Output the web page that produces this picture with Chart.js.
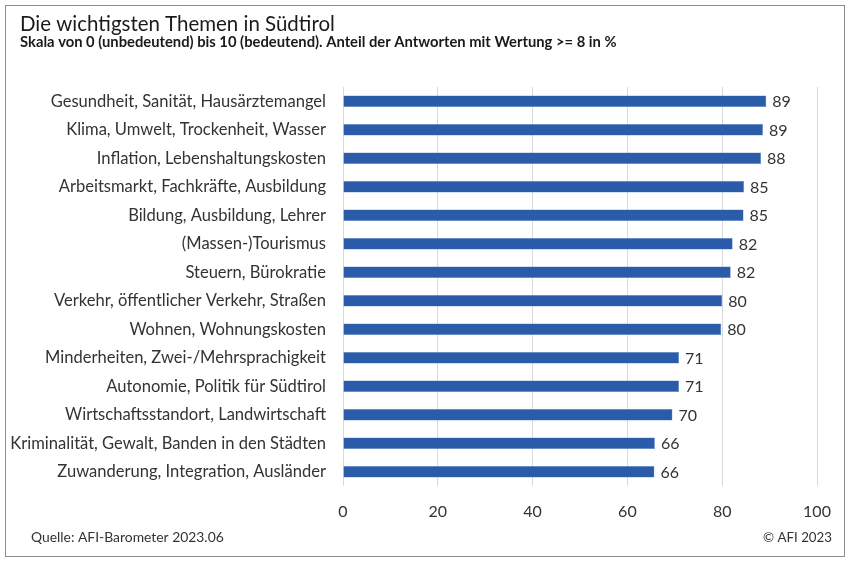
<!DOCTYPE html>
<html>
<head>
<meta charset="utf-8">
<script src="https://cdn.jsdelivr.net/npm/chart.js@4"></script>
<style>
  body { margin: 0; background: #fff; }
  canvas { display: block; }
</style>
</head>
<body>
<canvas id="chart" width="851" height="563"></canvas>
<script>
// ========== DATA ==========
const topics = [
  "Gesundheit, Sanität, Hausärztemangel",
  "Klima, Umwelt, Trockenheit, Wasser",
  "Inflation, Lebenshaltungskosten",
  "Arbeitsmarkt, Fachkräfte, Ausbildung",
  "Bildung, Ausbildung, Lehrer",
  "(Massen-)Tourismus",
  "Steuern, Bürokratie",
  "Verkehr, öffentlicher Verkehr, Straßen",
  "Wohnen, Wohnungskosten",
  "Minderheiten, Zwei-/Mehrsprachigkeit",
  "Autonomie, Politik für Südtirol",
  "Wirtschaftsstandort, Landwirtschaft",
  "Kriminalität, Gewalt, Banden in den Städten",
  "Zuwanderung, Integration, Ausländer"
];
const shares = [89.3, 88.6, 88.2, 84.6, 84.5, 82.2, 81.8, 80.0, 79.8, 70.9, 70.9, 69.5, 65.8, 65.7];
const xTicks = [0, 20, 40, 60, 80, 100];

const titleText = "Die wichtigsten Themen in Südtirol";
const subtitleText = "Skala von 0 (unbedeutend) bis 10 (bedeutend). Anteil der Antworten mit Wertung >= 8 in %";
const sourceText = "Quelle: AFI-Barometer 2023.06";
const copyText = "© AFI 2023";

const textColor = "#333333";
const fontFamily = "Lato, sans-serif";

// font size that makes a text as wide as in the reference
const measureCtx = document.createElement("canvas").getContext("2d");
function fitSize(text, width, weight) {
  measureCtx.font = (weight || "normal") + " 20px " + fontFamily;
  return 20 * width / measureCtx.measureText(text).width;
}

const labelSize = Math.min(fitSize(topics[12], 316), 17);
const titleSize = fitSize(titleText, 315);
const subtitleSize = fitSize(subtitleText, 597, "bold");
const sourceSize = fitSize(sourceText, 193);
const copySize = fitSize(copyText, 69);

// frame, title, subtitle and footer
const frameText = {
  id: "frameText",
  beforeDraw(chart) {
    const ctx = chart.ctx;
    ctx.save();
    ctx.strokeStyle = "#8c8c8c";
    ctx.lineWidth = 1;
    ctx.strokeRect(5.5, 5.5, 839, 551);
    ctx.textBaseline = "alphabetic";
    ctx.fillStyle = "#1a1a1a";
    ctx.textAlign = "left";
    ctx.font = titleSize + "px " + fontFamily;
    ctx.fillText(titleText, 20, 31);
    ctx.font = "bold " + subtitleSize + "px " + fontFamily;
    ctx.fillText(subtitleText, 20, 47);
    ctx.fillStyle = textColor;
    ctx.font = sourceSize + "px " + fontFamily;
    ctx.fillText(sourceText, 31, 542);
    ctx.textAlign = "right";
    ctx.font = copySize + "px " + fontFamily;
    ctx.fillText(copyText, 832, 542);
    ctx.restore();
  }
};

// value labels to the right of each bar
const valueLabels = {
  id: "valueLabels",
  afterDatasetsDraw(chart) {
    const ctx = chart.ctx;
    const meta = chart.getDatasetMeta(0);
    ctx.save();
    ctx.font = "16px " + fontFamily;
    ctx.fillStyle = textColor;
    ctx.textAlign = "left";
    ctx.textBaseline = "middle";
    meta.data.forEach((bar, i) => {
      ctx.fillText(Math.round(shares[i]), bar.x + 6, bar.y + 1);
    });
    ctx.restore();
  }
};

new Chart(document.getElementById("chart"), {
  type: "bar",
  data: {
    labels: topics,
    datasets: [{
      data: shares,
      backgroundColor: "#2b5ca9",
      borderColor: "#5a86c8",
      borderWidth: 0.5,
      barPercentage: 0.4,
      categoryPercentage: 1
    }]
  },
  options: {
    indexAxis: "y",
    responsive: false,
    animation: false,
    layout: { padding: { top: 87, right: 34, bottom: 0, left: 0 } },
    plugins: {
      legend: { display: false },
      tooltip: { enabled: false }
    },
    scales: {
      x: {
        min: 0,
        max: 100,
        afterBuildTicks(scale) {
          scale.ticks = xTicks.map(v => ({ value: v }));
        },
        afterFit(scale) { scale.height = 77; },
        grid: { color: "#d9d9d9", drawTicks: false },
        border: { display: false },
        ticks: {
          padding: 16,
          color: textColor,
          font: { family: fontFamily, size: 16 }
        }
      },
      y: {
        afterFit(scale) { scale.width = 343; },
        grid: { display: false },
        border: { display: false },
        ticks: {
          padding: 9,
          color: textColor,
          font: { family: fontFamily, size: labelSize }
        }
      }
    }
  },
  plugins: [frameText, valueLabels]
});
</script>
</body>
</html>
